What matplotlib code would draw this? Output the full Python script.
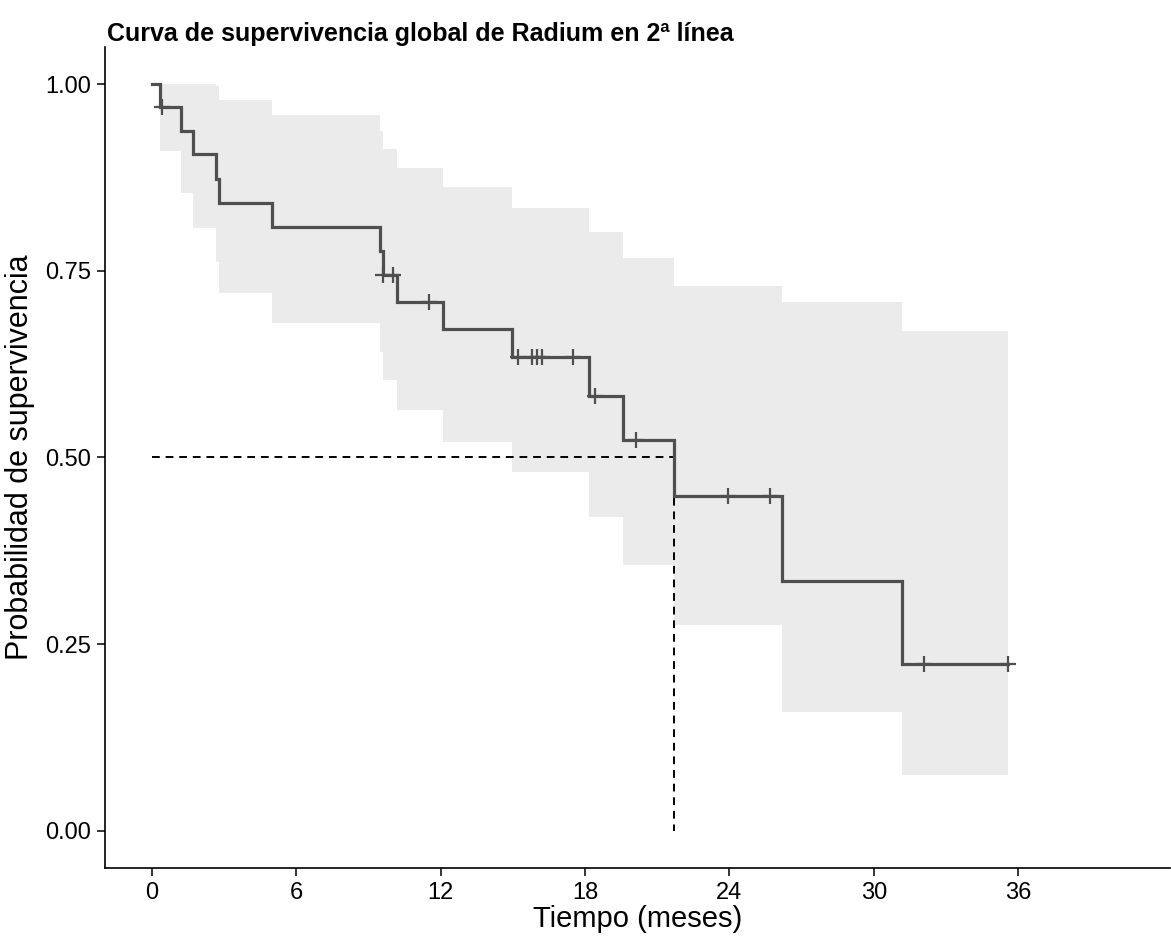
import numpy as np
import matplotlib
matplotlib.use("Agg")
import matplotlib.pyplot as plt

plt.rcParams['font.family'] = ['Liberation Sans', 'DejaVu Sans']

# Kaplan-Meier step data (months, survival probability)
step_time = [0, 0.35, 1.2, 1.7, 2.65, 2.8, 5.0, 9.46, 9.6, 10.2, 12.08, 14.97,
             18.15, 19.56, 21.7, 26.2, 31.17]
surv = [1.0, 0.969, 0.938, 0.906, 0.873, 0.841, 0.809, 0.777, 0.745, 0.709,
        0.672, 0.634, 0.582, 0.523, 0.448, 0.334, 0.223]
upper = [1.0, 1.0, 1.0, 1.0, 0.998, 0.979, 0.959, 0.937, 0.914, 0.888,
         0.862, 0.834, 0.802, 0.767, 0.730, 0.709, 0.669]
lower = [1.0, 0.910, 0.855, 0.807, 0.762, 0.720, 0.680, 0.641, 0.604, 0.563,
         0.521, 0.481, 0.420, 0.356, 0.275, 0.159, 0.075]
end_time = 35.57

# censored observations
cens_time = [0.4, 9.6, 10.0, 11.5, 15.2, 15.8, 16.0, 16.2, 17.5, 18.4, 20.1,
             23.94, 25.67, 32.07, 35.57]

median_time = 21.7
median_surv = 0.5

title = "Curva de supervivencia global de Radium en 2ª línea"
xlabel = "Tiempo (meses)"
ylabel = "Probabilidad de supervivencia"
xticks = [0, 6, 12, 18, 24, 30, 36]
yticks = [0.00, 0.25, 0.50, 0.75, 1.00]

fig = plt.figure(figsize=(11.71, 9.40), dpi=100)
ax = fig.add_axes([0.0897, 0.0766, 0.9093, 0.8734])

t = np.array(step_time + [end_time])
s = np.array(surv + [surv[-1]])
up = np.array(upper + [upper[-1]])
lo = np.array(lower + [lower[-1]])

ax.fill_between(t, lo, up, step='post', color='#ebebeb', linewidth=0, zorder=1)
ax.step(t, s, where='post', color='#4f4f4f', linewidth=2.3, zorder=3,
        solid_joinstyle='miter')

ct = np.array(cens_time)
idx = np.searchsorted(np.array(step_time), ct, side='right') - 1
cs = np.array(surv)[idx]
ax.plot(ct, cs, linestyle='none', marker='+', markersize=11, markeredgewidth=1.6,
        color='#4f4f4f', zorder=4)

ax.plot([0, median_time], [median_surv, median_surv], color='black',
        linestyle=(0, (4, 3)), linewidth=1.4, zorder=2)
ax.plot([median_time, median_time], [median_surv, 0], color='black',
        linestyle=(0, (4, 3)), linewidth=1.4, zorder=2)

ax.set_xlim(-1.95, 42.3)
ax.set_ylim(-0.05, 1.05)
ax.set_xticks(xticks)
ax.set_yticks(yticks)
ax.set_yticklabels([f"{v:.2f}" for v in yticks])

for side in ['top', 'right']:
    ax.spines[side].set_visible(False)
for side in ['left', 'bottom']:
    ax.spines[side].set_linewidth(1.2)
    ax.spines[side].set_color('black')

ax.tick_params(axis='both', direction='out', length=6, width=1.1,
               labelsize=17, colors='black', pad=4)

ax.set_xlabel(xlabel, fontsize=21, labelpad=1)
ax.set_ylabel(ylabel, fontsize=22, labelpad=7)
ax.set_title(title, fontsize=18, fontweight='bold', loc='left', pad=4,
             x=0.002)

fig.savefig("out.png", dpi=100)
